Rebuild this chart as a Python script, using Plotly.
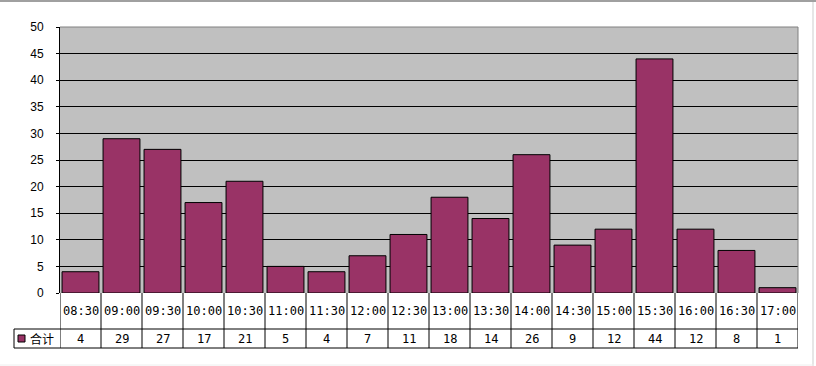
import plotly.graph_objects as go

categories = ["08:30", "09:00", "09:30", "10:00", "10:30", "11:00", "11:30", "12:00", "12:30",
              "13:00", "13:30", "14:00", "14:30", "15:00", "15:30", "16:00", "16:30", "17:00"]
values = [4, 29, 27, 17, 21, 5, 4, 7, 11, 18, 14, 26, 9, 12, 44, 12, 8, 1]
series_name = "合计"
y_ticks = [0, 5, 10, 15, 20, 25, 30, 35, 40, 45, 50]

W, H = 816, 366
ML, MR, MT, MB = 60, 18, 27, 73
PW, PH = W - ML - MR, H - MT - MB
BAR = "#993366"

def py(px):  # pixel y -> paper y
    return (H - MB - px) / PH * 1.0 if False else (H - MB - px) / PH

def pxx(px):  # pixel x -> paper x
    return (px - ML) / PW

fig = go.Figure()
fig.add_trace(go.Bar(x=list(range(len(categories))), y=values, marker=dict(color=BAR, line=dict(color="black", width=1)),
                     name=series_name, showlegend=False))

shapes = []
annotations = []
row1_bottom = py(329)
row2_bottom = py(348)
n = len(categories)
# horizontal table lines
for yy in (row1_bottom, row2_bottom):
    shapes.append(dict(type="line", xref="paper", yref="paper", x0=pxx(14), x1=1, y0=yy, y1=yy,
                       line=dict(color="black", width=1)))
shapes[0]["x0"] = pxx(14)
# left cell vertical
shapes.append(dict(type="line", xref="paper", yref="paper", x0=pxx(14), x1=pxx(14), y0=row1_bottom, y1=row2_bottom,
                   line=dict(color="black", width=1)))
# vertical cell boundaries
for i in range(n + 1):
    shapes.append(dict(type="line", xref="x", yref="paper", x0=i - 0.5, x1=i - 0.5, y0=0, y1=row2_bottom,
                       line=dict(color="black", width=1)))
# plot border top and right in gray
shapes.append(dict(type="line", xref="paper", yref="paper", x0=0, x1=1, y0=1, y1=1, line=dict(color="#808080", width=1)))
shapes.append(dict(type="line", xref="paper", yref="paper", x0=1, x1=1, y0=0, y1=1, line=dict(color="#808080", width=1)))
# outer frame
shapes.append(dict(type="line", xref="paper", yref="paper", x0=pxx(0), x1=pxx(816), y0=py(1), y1=py(1),
                   line=dict(color="#A0A0A0", width=2)))
shapes.append(dict(type="line", xref="paper", yref="paper", x0=pxx(813), x1=pxx(813), y0=py(2), y1=py(366),
                   line=dict(color="#E6E6E6", width=2)))
shapes.append(dict(type="line", xref="paper", yref="paper", x0=pxx(0), x1=pxx(814), y0=py(365), y1=py(365),
                   line=dict(color="#EEEEEE", width=1)))
# legend key
shapes.append(dict(type="rect", xref="paper", yref="paper", x0=pxx(18), x1=pxx(25), y0=py(342), y1=py(335),
                   fillcolor=BAR, line=dict(color="black", width=1)))

font_tbl = dict(family="SimSun, 'DejaVu Sans Mono', monospace", size=12, color="black")
for i, (c, v) in enumerate(zip(categories, values)):
    annotations.append(dict(x=i, y=(0 + row1_bottom) / 2, xref="x", yref="paper", text=c, showarrow=False,
                            font=font_tbl, xanchor="center", yanchor="middle"))
    annotations.append(dict(x=i, y=(row1_bottom + row2_bottom) / 2, xref="x", yref="paper", text=str(v),
                            showarrow=False, font=font_tbl, xanchor="center", yanchor="middle"))
annotations.append(dict(x=pxx(28), y=(row1_bottom + row2_bottom) / 2, xref="paper", yref="paper", text=series_name,
                        showarrow=False, font=dict(family="Noto Sans CJK SC", size=12, color="black"),
                        xanchor="left", yanchor="middle"))

fig.update_layout(
    width=W, height=H, autosize=False,
    margin=dict(l=ML, r=MR, t=MT, b=MB, pad=0),
    paper_bgcolor="white", plot_bgcolor="#C0C0C0",
    bargap=0.1,
    shapes=shapes, annotations=annotations,
    xaxis=dict(range=[-0.5, n - 0.5], showticklabels=False, showgrid=False, zeroline=False,
               showline=False, ticks=""),
    yaxis=dict(range=[0, 50], tickvals=y_ticks, showgrid=True, gridcolor="black", gridwidth=1,
               zeroline=False, showline=True, linecolor="black", linewidth=1, ticks="outside", ticklen=3,
               tickcolor="black", ticklabelstandoff=10,
               tickfont=dict(family="Liberation Sans, Arial", size=12, color="black")),
)
fig.write_html("out.html")
